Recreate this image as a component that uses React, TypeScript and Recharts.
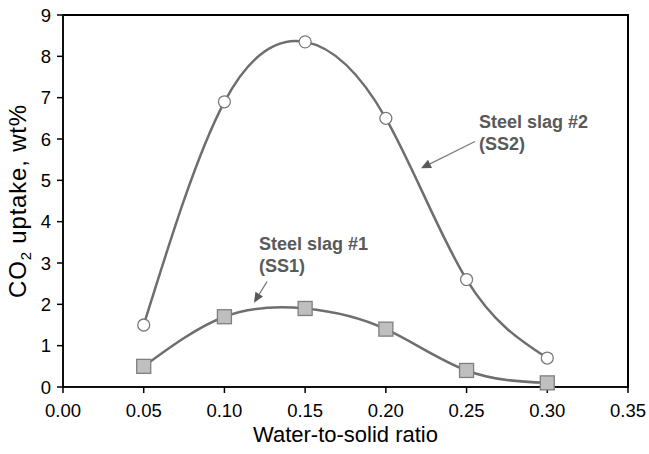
import React from "react";
import {
  LineChart,
  Line,
  XAxis,
  YAxis,
  CartesianGrid,
  ReferenceArea,
  ReferenceLine,
  ReferenceDot,
} from "recharts";

const ratios = [0.05, 0.1, 0.15, 0.2, 0.25, 0.3];
const ss1 = [0.5, 1.7, 1.9, 1.4, 0.4, 0.1];
const ss2 = [1.5, 6.9, 8.35, 6.5, 2.6, 0.7];
const xTicks = [0, 0.05, 0.1, 0.15, 0.2, 0.25, 0.3, 0.35];
const yTicks = [0, 1, 2, 3, 4, 5, 6, 7, 8, 9];

const data = ratios.map((r, i) => ({ ratio: r, ss1: ss1[i], ss2: ss2[i] }));

const FONT = "'Liberation Sans', Arial, sans-serif";
const LINE = "#6e6e6e";
const TEXT = "#595959";

function Circle(props: any) {
  const { cx, cy } = props;
  if (cx == null || cy == null) return null;
  return <circle cx={cx} cy={cy} r={6} fill="#fff" stroke="#7a7a7a" strokeWidth={1.3} />;
}

function Square(props: any) {
  const { cx, cy } = props;
  if (cx == null || cy == null) return null;
  return (
    <rect x={cx - 7} y={cy - 7} width={14} height={14} fill="#bfbfbf" stroke="#7f7f7f" strokeWidth={1.3} />
  );
}

function Arrow(props: any) {
  const { x1, y1, x2, y2 } = props;
  const ang = Math.atan2(y2 - y1, x2 - x1);
  const len = 10;
  const w = 4.5;
  const bx = x2 - len * Math.cos(ang);
  const by = y2 - len * Math.sin(ang);
  const px = -Math.sin(ang) * w;
  const py = Math.cos(ang) * w;
  return (
    <g>
      <line x1={x1} y1={y1} x2={bx} y2={by} stroke="#7a7a7a" strokeWidth={1.2} />
      <polygon points={`${x2},${y2} ${bx + px},${by + py} ${bx - px},${by - py}`} fill="#595959" />
    </g>
  );
}

function note(lines: string[]) {
  return (props: any) => {
    const { cx, cy } = props;
    return (
      <text x={cx} y={cy} fill={TEXT} fontFamily={FONT} fontSize={18} fontWeight="bold">
        {lines.map((l, i) => (
          <tspan key={i} x={cx} dy={i === 0 ? 0 : 22}>
            {l}
          </tspan>
        ))}
      </text>
    );
  };
}

function YTitle() {
  return (
    <text
      transform="translate(26,201) rotate(-90)"
      textAnchor="middle"
      fontFamily={FONT}
      fontSize={24}
      letterSpacing={0.8}
      fill="#000"
    >
      CO<tspan fontSize={15} dy={5}>2</tspan>
      <tspan dy={-5}> uptake, wt%</tspan>
    </text>
  );
}

function XTitle(props: any) {
  const vb = props.viewBox || {};
  const cx = (vb.x ?? 63) + (vb.width ?? 565) / 2;
  return (
    <text x={cx} y={442} textAnchor="middle" fontFamily={FONT} fontSize={22} fill="#000">
      Water-to-solid ratio
    </text>
  );
}

const tickStyle = { fill: "#000", fontSize: 18.5, fontFamily: FONT };

export default function App() {
  return (
    <div
      style={{
        position: "fixed",
        left: 0,
        top: 0,
        width: 649,
        height: 454,
        overflow: "hidden",
        background: "#fff",
      }}
    >
      <LineChart
        width={649}
        height={454}
        data={data}
        margin={{ top: 15, right: 21, bottom: 0, left: 0 }}
      >
        <CartesianGrid
          horizontalValues={[9]}
          verticalValues={[0.35]}
          stroke="#000"
          strokeWidth={1.5}
        />
        <ReferenceArea
          x1={0}
          x2={0.35}
          y1={0}
          y2={9}
          fill="#fff"
          fillOpacity={0}
          stroke="#000"
          strokeOpacity={1}
          strokeWidth={1.5}
          ifOverflow="extendDomain"
        />
        <XAxis
          dataKey="ratio"
          type="number"
          domain={[0, 0.35]}
          ticks={xTicks}
          tickFormatter={(v: number) => v.toFixed(2)}
          tick={tickStyle}
          stroke="#000"
          strokeWidth={1.5}
          tickSize={6}
          tickMargin={11}
          height={67}
          label={<XTitle />}
        />
        <YAxis
          type="number"
          domain={[0, 9]}
          ticks={yTicks}
          tick={tickStyle}
          stroke="#000"
          strokeWidth={1.5}
          tickSize={6}
          tickMargin={6}
          width={63}
          label={<YTitle />}
        />
        <Line
          type="natural"
          dataKey="ss2"
          stroke={LINE}
          strokeWidth={2.5}
          dot={<Circle />}
          activeDot={false}
          isAnimationActive={false}
        />
        <Line
          type="natural"
          dataKey="ss1"
          stroke={LINE}
          strokeWidth={2.5}
          dot={<Square />}
          activeDot={false}
          isAnimationActive={false}
        />
        <ReferenceLine
          segment={[
            { x: 0.1264, y: 2.55 },
            { x: 0.1183, y: 2.04 },
          ]}
          shape={<Arrow />}
        />
        <ReferenceLine
          segment={[
            { x: 0.2552, y: 5.94 },
            { x: 0.2218, y: 5.29 },
          ]}
          shape={<Arrow />}
        />
        <ReferenceDot x={0.1214} y={3.32} r={0} shape={note(["Steel slag #1", "(SS1)"])} />
        <ReferenceDot x={0.2577} y={6.26} r={0} shape={note(["Steel slag #2", "(SS2)"])} />
      </LineChart>
      <div
        style={{
          position: "absolute",
          left: 63,
          top: 14,
          width: 564,
          height: 372,
          borderTop: "2px solid #000",
          borderRight: "2px solid #000",
          pointerEvents: "none",
          zIndex: 5,
        }}
      />
    </div>
  );
}
